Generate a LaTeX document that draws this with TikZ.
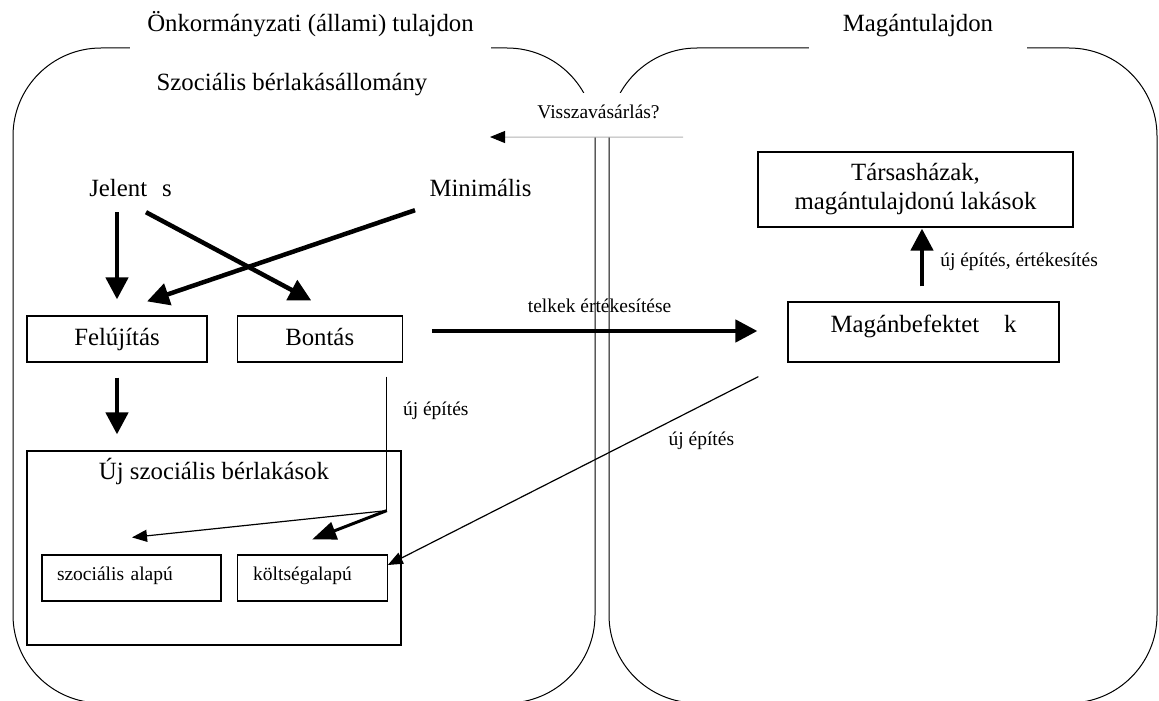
\documentclass[tikz,border=0pt]{standalone}
\usepackage{fontspec}
\setmainfont{Liberation Serif}
\usepackage{tikz}
\usetikzlibrary{arrows.meta,calc,positioning}
\newcommand{\bigtxt}{\fontsize{24.8}{29}\selectfont}
\newcommand{\smalltxt}{\fontsize{19.5}{23}\selectfont}
\tikzset{%
	region/.style    = {draw, line width=1pt, rounded corners=88pt}, % ownership area
	titlenode/.style = {fill=white, font=\bigtxt, inner sep=0pt, text height=20pt, text depth=20pt}, % hides the frame
	textnode/.style  = {font=\bigtxt, inner sep=0pt, text height=17pt, text depth=5pt},
	labelnode/.style = {font=\smalltxt, inner sep=0pt, text height=13.5pt, text depth=4pt},
	box/.style       = {draw, line width=1.2pt, rectangle, inner sep=0pt},
	block/.style     = {box, font=\bigtxt, text height=17pt, text depth=5pt, minimum height=46pt},
	subblock/.style  = {box, font=\smalltxt, align=left, inner ysep=0pt, text height=13.5pt, text depth=8pt, minimum height=46pt},
}
\tikzset{%
	bigarrow/.style  = {line width=4.5pt, -{Triangle[length=22pt,width=22pt]}},
	midarrow/.style  = {line width=3pt, -{Triangle[length=24pt,width=18pt]}},
	arrow/.style     = {line width=1.2pt, -{Triangle[length=15pt,width=12pt]}},
	grayarrow/.style = {draw=gray!60, line width=1pt, -{Triangle[length=15pt,width=12pt,color=black]}},
}

\begin{document}
\begin{tikzpicture}[x=1pt,y=-1pt]
	\useasboundingbox (0,0) rectangle (1159,701);
	% the two ownership areas
	\draw[region] (13,48) rectangle (595,703);
	\draw[region] (609,48) rectangle (1157,703);
	\node[titlenode, minimum width=361pt, anchor=base] (onkorm) at (310.5,32) {Önkormányzati (állami) tulajdon};
	\node[titlenode, minimum width=218pt, anchor=base] (magan) at (918,32) {Magántulajdon};
	\node[labelnode, fill=white, text height=25pt, text depth=19pt, minimum width=169pt, anchor=base] (visszavas) at (598.5,118) {Visszavásárlás?};
	\coordinate (buyback) at (490,137);
	\draw[grayarrow] (visszavas.south east) -- (buyback);
	% left side
	\node[textnode, anchor=base] (szocallom) at (292,91) {Szociális bérlakásállomány};
	\node[textnode, anchor=base] (jelentes) at (130.5,196) {Jelent\hspace{0.6em}s};
	\node[textnode, anchor=base] (minimalis) at (480.5,196) {Minimális};
	\node[block, minimum width=180pt] (felujitas) at (117,339) {Felújítás};
	\node[block, minimum width=165pt, right=29pt of felujitas] (bontas) {Bontás};
	\node[box, minimum width=374pt, minimum height=194pt] (ujbox) at (214,548) {};
	\node[textnode, anchor=base] (ujtitle) at ($(ujbox.north)+(0,29)$) {Új szociális bérlakások};
	\node[subblock, minimum width=179pt, text width=149pt, inner xsep=15pt] (szocalap) at (131.5,578) {szociális alapú};
	\node[subblock, minimum width=150pt, text width=118pt, inner xsep=16pt, right=15pt of szocalap] (koltseg) {költségalapú};
	% right side
	\node[block, minimum width=271pt, minimum height=60pt, text depth=17pt] (maganbef) at (923.5,332) {Magánbefektet\hspace{1em}k};
	\node[box, font=\bigtxt, align=center, minimum width=315pt, minimum height=75pt] (tarsas) at (915.5,189.5) {Társasházak,\\magántulajdonú lakások};
	% flows
	\draw[bigarrow] ($(jelentes.south -| felujitas.north)+(0,11)$) -- ($(felujitas.north)+(0,-16)$);
	\draw[bigarrow] ($(jelentes.south)+(15.5,11)$) -- ($(bontas.north)+(-8.5,-15)$);
	\draw[bigarrow] ($(minimalis.south)+(-65.5,9)$) -- ($(felujitas.north)+(30,-14)$);
	\draw[bigarrow] ($(felujitas.south)+(0,15)$) -- ($(ujbox.north -| felujitas.south)+(0,-16)$);
	\draw[bigarrow] ($(bontas.east)+(29,-8)$) -- node[labelnode, anchor=base, yshift=19pt, xshift=5pt] (telkek) {telkek értékesítése} ($(maganbef.west)+(-30,-1)$);
	\draw[bigarrow] ($(maganbef.north)+(-1.5,-15)$) -- node[labelnode, anchor=base west, xshift=16pt, yshift=-8.5pt] (ujepert) {új építés, értékesítés} ($(tarsas.south)+(6.5,1)$);
	\coordinate (split) at ($(bontas.south east)+(-16,148)$);
	\draw[line width=1.2pt] ($(bontas.south east)+(-16,14)$) -- (split);
	\node[labelnode, anchor=base west] (ujep1) at ($(bontas.south east)+(0,53)$) {új építés};
	\draw[arrow] (split) -- ($(szocalap.north)+(0.5,-17)$);
	\draw[midarrow] (split) -- ($(koltseg.north)+(0,-15)$);
	\draw[arrow] ($(maganbef.south west)+(-29,14)$) -- ($(koltseg.east)+(0,-13)$);
	\node[labelnode, anchor=base west] (ujep2) at ($(maganbef.south west)+(-119,83)$) {új építés};
\end{tikzpicture}
\end{document}
